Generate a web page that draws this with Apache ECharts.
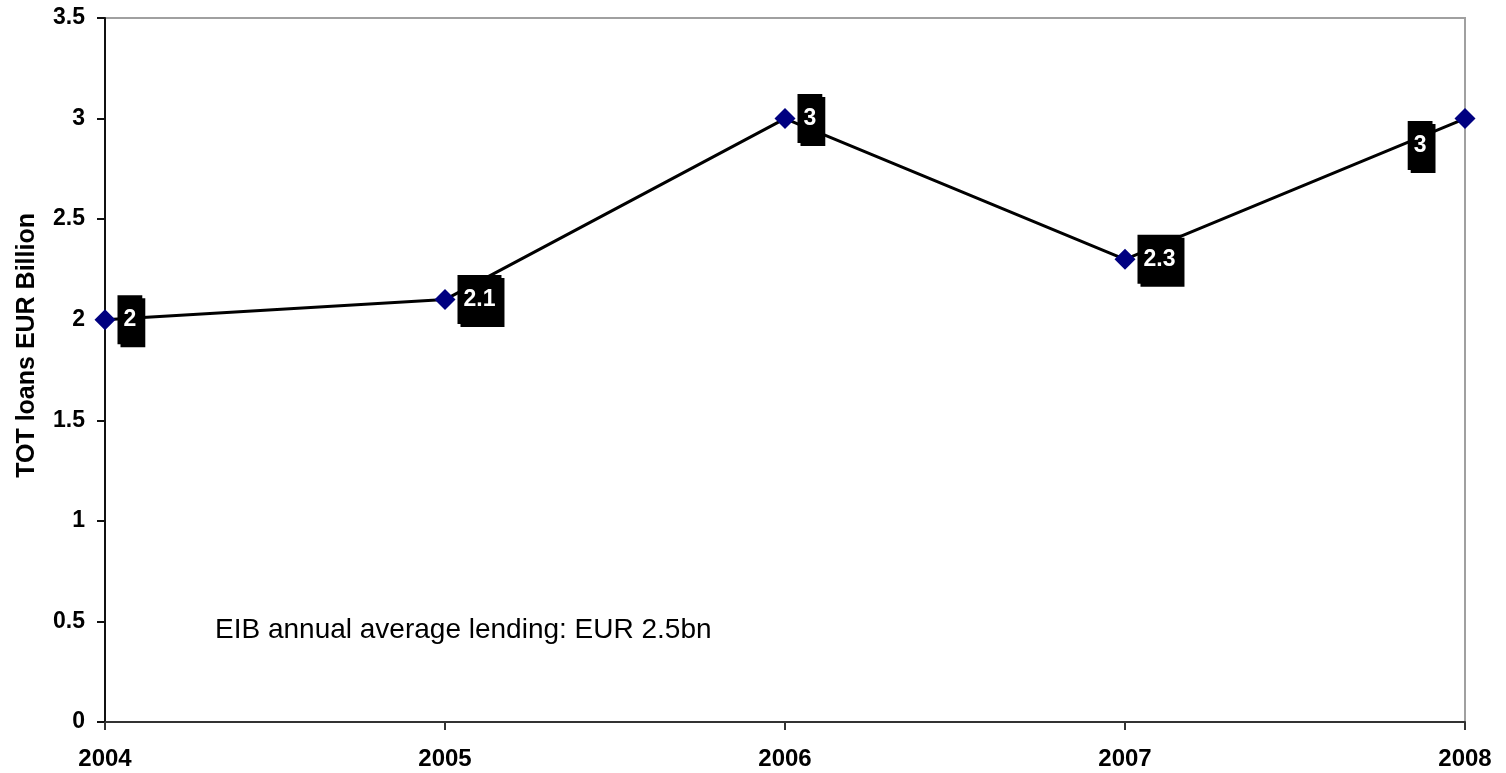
<!DOCTYPE html>
<html>
<head>
<meta charset="utf-8">
<script src="https://cdn.jsdelivr.net/npm/echarts@6/dist/echarts.min.js"></script>
<style>
  html, body { margin: 0; padding: 0; background: #fff; }
  #chart { width: 1506px; height: 773px; }
</style>
</head>
<body>
<div id="chart"></div>
<script>
// Annual EIB lending, EUR billion
const years = ['2004', '2005', '2006', '2007', '2008'];
const loans = [2, 2.1, 3, 2.3, 3];
const yTicks = { min: 0, max: 3.5, interval: 0.5 };
const axisTitle = 'TOT loans EUR Billion';
const note = 'EIB annual average lending: EUR 2.5bn';

const FONT = '"Liberation Sans", Arial, sans-serif';

const labelBase = {
  show: true,
  position: 'right',
  distance: 2,
  color: '#fff',
  fontFamily: FONT,
  fontWeight: 'bold',
  fontSize: 23,
  lineHeight: 23,
  backgroundColor: '#000',
  padding: [13, 6],
  shadowColor: '#000',
  shadowBlur: 0,
  shadowOffsetX: 3,
  shadowOffsetY: 3
};

const seriesData = loans.map((v, i) => {
  const item = { value: v };
  if (i === loans.length - 1) {
    item.label = { position: 'left', distance: 22, offset: [0, 27] };
  }
  return item;
});

const chart = echarts.init(document.getElementById('chart'), null, { renderer: 'canvas' });
chart.setOption({
  animation: false,
  backgroundColor: '#fff',
  grid: {
    left: 105, right: 41, top: 18, bottom: 51,
    show: true, borderColor: '#a0a0a0', borderWidth: 2, backgroundColor: 'transparent'
  },
  xAxis: {
    type: 'category',
    data: years,
    boundaryGap: false,
    axisLine: { lineStyle: { color: '#333', width: 2 } },
    axisTick: { show: true, length: 8, lineStyle: { color: '#333', width: 2 } },
    axisLabel: { color: '#000', fontFamily: FONT, fontWeight: 'bold', fontSize: 24, margin: 25 },
    splitLine: { show: false }
  },
  yAxis: {
    type: 'value',
    min: yTicks.min, max: yTicks.max, interval: yTicks.interval,
    axisLine: { show: true, lineStyle: { color: '#111', width: 2 } },
    axisTick: { show: true, length: 8, lineStyle: { color: '#111', width: 2 } },
    axisLabel: { color: '#000', fontFamily: FONT, fontWeight: 'bold', fontSize: 23, margin: 20 },
    splitLine: { show: false }
  },
  graphic: [
    {
      type: 'text',
      left: 15, top: 213,
      rotation: Math.PI / 2,
      style: { text: axisTitle, fill: '#000', font: 'bold 25px ' + FONT }
    },
    {
      type: 'text',
      left: 215, top: 616,
      style: { text: note, fill: '#000', font: '28px ' + FONT }
    }
  ],
  series: [{
    type: 'line',
    data: seriesData,
    symbol: 'diamond',
    symbolSize: 21,
    lineStyle: { color: '#000', width: 3 },
    itemStyle: { color: '#000080' },
    label: labelBase,
    z: 3
  }]
});
</script>
</body>
</html>
